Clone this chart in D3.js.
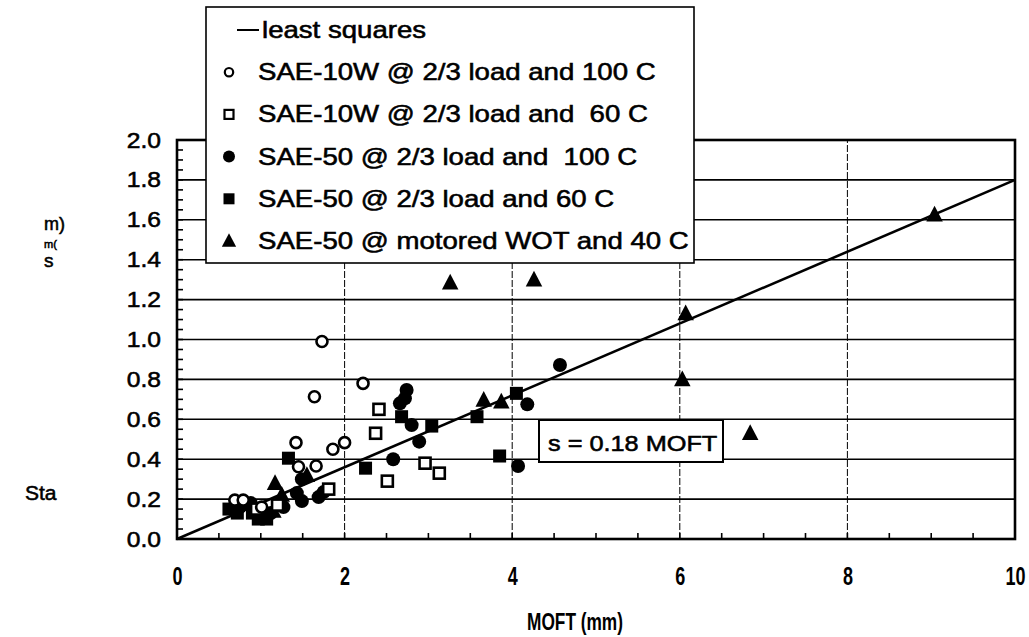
<!DOCTYPE html>
<html><head><meta charset="utf-8">
<script src="https://cdn.jsdelivr.net/npm/d3@7"></script>
<style>
html,body{margin:0;padding:0;background:#fff;}
text{font-family:"Liberation Sans",Arial,sans-serif;fill:#000;white-space:pre;}
.thick{stroke:#000;stroke-width:0.55px;}
</style></head>
<body><svg id="c" width="1029" height="637"></svg>
<script>
// ---- data ----
const xTicks = [0, 2, 4, 6, 8, 10];
const yTicks = [0.0, 0.2, 0.4, 0.6, 0.8, 1.0, 1.2, 1.4, 1.6, 1.8, 2.0];
const legendLabels = [
  "least squares",
  "SAE-10W @ 2/3 load and 100 C",
  "SAE-10W @ 2/3 load and  60 C",
  "SAE-50 @ 2/3 load and  100 C",
  "SAE-50 @ 2/3 load and 60 C",
  "SAE-50 @ motored WOT and 40 C"
];
const sae10w100 = [[0.69,0.195],[0.79,0.195],[1.01,0.16],[1.42,0.483],[1.45,0.362],[1.64,0.713],[1.66,0.366],[1.73,0.99],[1.86,0.45],[2.0,0.483],[2.22,0.78]];
const sae10w60 = [[0.95,0.15],[1.2,0.17],[1.81,0.25],[2.37,0.53],[2.41,0.65],[2.51,0.29],[2.96,0.38],[3.13,0.33]];
const sae50_100 = [[0.75,0.16],[0.88,0.18],[1.12,0.13],[1.27,0.16],[1.43,0.23],[1.49,0.19],[1.49,0.30],[1.69,0.21],[1.75,0.235],[2.58,0.40],[2.66,0.68],[2.72,0.705],[2.74,0.747],[2.80,0.571],[2.89,0.488],[4.07,0.366],[4.18,0.675],[4.57,0.872]];
const sae50_60 = [[0.62,0.15],[0.72,0.13],[0.9,0.13],[0.97,0.10],[1.07,0.10],[1.33,0.405],[2.25,0.355],[2.68,0.613],[3.04,0.566],[3.58,0.613],[3.85,0.416],[4.05,0.73]];
const sae50wot40 = [[1.05,0.13],[1.15,0.14],[1.17,0.28],[1.25,0.22],[1.55,0.32],[3.26,1.285],[3.66,0.697],[3.87,0.688],[4.26,1.30],[6.03,0.80],[6.07,1.13],[6.84,0.53],[9.04,1.625]];
const slope = 0.18;
const fitLabel = "s = 0.18 MOFT";
const xLabel = "MOFT (mm)";
const yLabelParts = ["m)", "m(", "s"];
const yLabelLow = "Sta";

// ---- layout ----
const svg = d3.select("#c");
const x = d3.scaleLinear().domain([0, 10]).range([177, 1015]);
const y = d3.scaleLinear().domain([0, 2]).range([539, 140]);

// grid
const g = svg.append("g");
g.selectAll(".hg").data(yTicks.filter(v => v > 0 && v < 2)).join("line")
  .attr("x1", x(0)).attr("x2", x(10)).attr("y1", d => y(d)).attr("y2", d => y(d))
  .attr("stroke", "#000").attr("stroke-width", 1.6);
g.selectAll(".vg").data(xTicks.filter(v => v > 0 && v < 10)).join("line")
  .attr("x1", d => x(d)).attr("x2", d => x(d)).attr("y1", y(0)).attr("y2", y(2))
  .attr("stroke", "#000").attr("stroke-width", 1).attr("stroke-dasharray", "7,2");

// minor ticks
const yMinor = d3.range(0, 2.0001, 0.05);
g.selectAll(".ym").data(yMinor).join("line")
  .attr("x1", x(0)).attr("x2", x(0) + 6).attr("y1", d => y(d)).attr("y2", d => y(d))
  .attr("stroke", "#000").attr("stroke-width", 1.6);
const xMinor = d3.range(0.5, 10, 0.5);
g.selectAll(".xm").data(xMinor).join("line")
  .attr("x1", d => x(d)).attr("x2", d => x(d)).attr("y1", y(0)).attr("y2", y(0) - 6)
  .attr("stroke", "#000").attr("stroke-width", 1.6);

// frame
g.append("rect").attr("x", x(0)).attr("y", y(2)).attr("width", x(10) - x(0)).attr("height", y(0) - y(2))
  .attr("fill", "none").attr("stroke", "#000").attr("stroke-width", 2.6);

// axes labels via d3 axis
const yAxis = svg.append("g").attr("transform", `translate(${x(0)},0)`)
  .call(d3.axisLeft(y).tickValues(yTicks).tickFormat(d3.format(".1f")).tickSize(0).tickPadding(16));
yAxis.select(".domain").remove();
yAxis.selectAll("text").attr("font-size", 22).attr("class", "thick")
  .attr("font-family", "Liberation Sans, Arial, sans-serif")
  .attr("transform", "scale(1.12,1)").attr("x", -16 / 1.12);

const sxN = 0.72;
const xAxis = svg.append("g").attr("transform", `translate(0,${y(0)})`)
  .call(d3.axisBottom(x).tickValues(xTicks).tickFormat(d3.format("d")).tickSize(0).tickPadding(28));
xAxis.select(".domain").remove();
xAxis.selectAll("text").attr("font-size", 25).attr("font-weight", "bold")
  .attr("font-family", "Liberation Sans, Arial, sans-serif")
  .attr("transform", `scale(${sxN},1)`);

svg.append("text").attr("transform", `translate(575,630) scale(${sxN},1)`).attr("text-anchor", "middle")
  .attr("font-size", 24).attr("font-weight", "bold").text(xLabel);

// fragmented y label
svg.append("text").attr("x", 25).attr("y", 500).attr("font-size", 21).attr("class", "thick").text(yLabelLow);
svg.append("text").attr("x", 44).attr("y", 230).attr("font-size", 18).attr("class", "thick").text(yLabelParts[0]);
svg.append("text").attr("x", 44).attr("y", 248).attr("font-size", 11).attr("class", "thick").text(yLabelParts[1]);
svg.append("text").attr("x", 44).attr("y", 267).attr("font-size", 19).attr("class", "thick").text(yLabelParts[2]);

// least squares line
svg.append("line").attr("x1", x(0)).attr("y1", y(0)).attr("x2", x(10)).attr("y2", y(slope * 10))
  .attr("stroke", "#000").attr("stroke-width", 2.6);

// symbols
const triPath = s => `M0,${-s*0.6}L${s*0.55},${s*0.45}L${-s*0.55},${s*0.45}Z`;
const pts = svg.append("g");
pts.selectAll(".fs").data(sae50_60).join("rect")
  .attr("x", d => x(d[0]) - 6.5).attr("y", d => y(d[1]) - 6.5).attr("width", 13).attr("height", 13).attr("fill", "#000");
pts.selectAll(".fc").data(sae50_100).join("circle")
  .attr("cx", d => x(d[0])).attr("cy", d => y(d[1])).attr("r", 7).attr("fill", "#000");
pts.selectAll(".ft").data(sae50wot40).join("path")
  .attr("transform", d => `translate(${x(d[0])},${y(d[1])})`).attr("d", triPath(15)).attr("fill", "#000");
pts.selectAll(".os").data(sae10w60).join("rect")
  .attr("x", d => x(d[0]) - 5.5).attr("y", d => y(d[1]) - 5.5).attr("width", 11).attr("height", 11)
  .attr("fill", "#fff").attr("stroke", "#000").attr("stroke-width", 2.6);
pts.selectAll(".oc").data(sae10w100).join("circle")
  .attr("cx", d => x(d[0])).attr("cy", d => y(d[1])).attr("r", 5.5)
  .attr("fill", "#fff").attr("stroke", "#000").attr("stroke-width", 2.6);

// fit annotation
svg.append("rect").attr("x", 539).attr("y", 420).attr("width", 184).attr("height", 42)
  .attr("fill", "#fff").attr("stroke", "#000").attr("stroke-width", 2);
svg.append("text").attr("transform", "translate(548,451) scale(1.15,1)")
  .attr("font-size", 22).attr("class", "thick").text(fitLabel);

// legend
const lg = svg.append("g");
lg.append("rect").attr("x", 206).attr("y", 7).attr("width", 488).attr("height", 256)
  .attr("fill", "#fff").attr("stroke", "#000").attr("stroke-width", 1.6);
const rowY = legendLabels.map((_, i) => 30 + i * 42.2);
lg.append("line").attr("x1", 237).attr("x2", 259).attr("y1", rowY[0]).attr("y2", rowY[0])
  .attr("stroke", "#000").attr("stroke-width", 2);
lg.selectAll(".lt").data(legendLabels).join("text")
  .attr("transform", (d, i) => `translate(${i === 0 ? 262 : 258},${rowY[i] + 8}) scale(1.2,1)`)
  .attr("font-size", 23).attr("class", "thick").text(d => d);
const sx = 229;
lg.append("circle").attr("cx", sx).attr("cy", rowY[1]).attr("r", 4.2).attr("fill", "#fff").attr("stroke", "#000").attr("stroke-width", 2.2);
lg.append("rect").attr("x", sx - 4.5).attr("y", rowY[2] - 4.5).attr("width", 9).attr("height", 9).attr("fill", "#fff").attr("stroke", "#000").attr("stroke-width", 2.2);
lg.append("circle").attr("cx", sx).attr("cy", rowY[3]).attr("r", 6).attr("fill", "#000");
lg.append("rect").attr("x", sx - 5.5).attr("y", rowY[4] - 5.5).attr("width", 11).attr("height", 11).attr("fill", "#000");
lg.append("path").attr("transform", `translate(${sx},${rowY[5]})`).attr("d", triPath(13)).attr("fill", "#000");
</script></body></html>
